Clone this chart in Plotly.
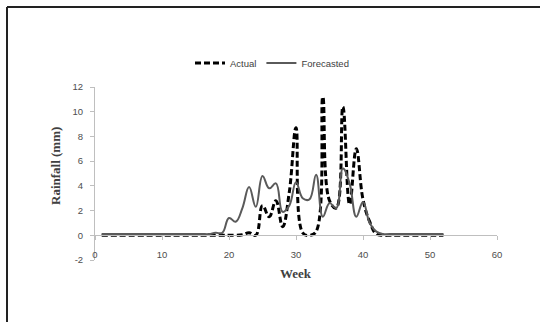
import plotly.graph_objects as go

weeks = [1, 2, 3, 4, 5, 6, 7, 8, 9, 10, 11, 12, 13, 14, 15, 16, 17, 18, 19, 20,
         21, 22, 23, 24, 25, 26, 27, 28, 29, 30, 31, 32, 33, 34, 35, 36, 37, 38, 39, 40,
         41, 42, 43, 44, 45, 46, 47, 48, 49, 50, 51, 52]

actual = [0.0, 0.0, 0.0, 0.0, 0.0, 0.0, 0.0, 0.0, 0.0, 0.0,
          0.0, 0.0, 0.0, 0.0, 0.0, 0.0, 0.0, 0.0, 0.0, 0.0,
          0.0, 0.05, 0.2, 0.0, 2.4, 1.5, 2.8, 0.7, 3.5, 8.7,
          0.2, 0.0, 0.3, 11.2, 2.8, 2.2, 10.4, 2.5, 7.0, 2.9,
          1.1, 0.1, 0.0, 0.0, 0.0, 0.0, 0.0, 0.0, 0.0, 0.0,
          0.0, 0.0]

forecasted = [0.1, 0.1, 0.1, 0.1, 0.1, 0.1, 0.1, 0.1, 0.1, 0.1,
              0.1, 0.1, 0.1, 0.1, 0.1, 0.1, 0.1, 0.2, 0.2, 1.4,
              1.1, 2.2, 3.9, 2.3, 4.8, 3.8, 4.2, 1.9, 2.4, 4.3,
              3.0, 2.9, 4.9, 1.5, 2.6, 2.2, 5.4, 4.2, 1.5, 2.7,
              1.0, 0.3, 0.1, 0.1, 0.1, 0.1, 0.1, 0.1, 0.1, 0.1,
              0.1, 0.1]

x_ticks = [0, 10, 20, 30, 40, 50, 60]
y_ticks = [-2, 0, 2, 4, 6, 8, 10, 12]

W, H = 540, 322
L, R, T, B = 95, 43, 87, 62
PW, PH = W - L - R, H - T - B


def px_x(p):
    return (p - L) / PW


def px_y(p):
    return 1 - (p - T) / PH


fig = go.Figure()
fig.add_trace(go.Scatter(
    x=weeks, y=actual, name="Actual", mode="lines",
    line=dict(color="black", width=3, dash="6px,3px", shape="spline", smoothing=1.2),
))
fig.add_trace(go.Scatter(
    x=weeks, y=forecasted, name="Forecasted", mode="lines",
    line=dict(color="#5a5a5a", width=2, shape="spline", smoothing=1.2),
))

tick_font = dict(family="Liberation Sans", size=9.5, color="#4d4d4d")

fig.update_layout(
    width=W, height=H,
    margin=dict(l=L, r=R, t=T, b=B, pad=0),
    paper_bgcolor="white", plot_bgcolor="white",
    showlegend=True,
    legend=dict(orientation="h", x=px_x(272), y=px_y(63), xanchor="center", yanchor="middle",
                font=dict(family="Liberation Sans", size=9.5, color="#404040"),
                itemwidth=30, bgcolor="rgba(0,0,0,0)", tracegroupgap=0),
    xaxis=dict(range=[0, 60], tickvals=x_ticks, ticktext=[str(v) for v in x_ticks],
               showgrid=False, zeroline=False, showline=True, linecolor="#bfbfbf", linewidth=1,
               ticks="outside", ticklen=4, tickcolor="#bfbfbf",
               anchor="free", position=2 / 14, tickfont=tick_font, ticklabelstandoff=6),
    yaxis=dict(range=[-2, 12], tickvals=y_ticks, ticktext=[str(v) for v in y_ticks],
               showgrid=False, zeroline=False, showline=True, linecolor="#bfbfbf", linewidth=1,
               ticks="outside", ticklen=4, tickcolor="#bfbfbf", tickfont=tick_font,
               ticklabelstandoff=5),
    annotations=[
        dict(text="<b>Week</b>", xref="paper", yref="paper", x=px_x(296), y=px_y(273),
             showarrow=False, font=dict(family="Liberation Serif", size=13, color="#404040"),
             xanchor="center", yanchor="middle"),
        dict(text="<b>Rainfall (mm)</b>", xref="paper", yref="paper", x=px_x(55), y=px_y(166),
             showarrow=False, textangle=-90,
             font=dict(family="Liberation Serif", size=13, color="#404040"),
             xanchor="center", yanchor="middle"),
    ],
    shapes=[
        dict(type="line", xref="paper", yref="paper", x0=px_x(7), x1=px_x(541),
             y0=px_y(7), y1=px_y(7), line=dict(color="#222222", width=2)),
        dict(type="line", xref="paper", yref="paper", x0=px_x(7), x1=px_x(7),
             y0=px_y(7), y1=px_y(323), line=dict(color="#222222", width=2)),
    ],
)

fig.write_html("out.html")
